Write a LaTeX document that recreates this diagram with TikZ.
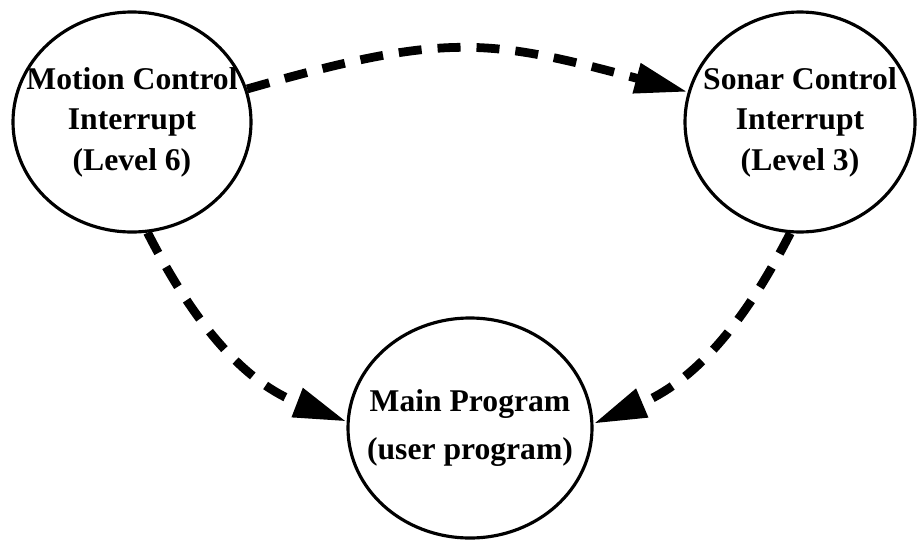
\documentclass[tikz,border=0pt]{standalone}
\usepackage{fontspec}
\setmainfont{Liberation Serif}
\usepackage{tikz}
\usetikzlibrary{positioning}
\usetikzlibrary{shapes}
\usetikzlibrary{arrows.meta}

\begin{document}
\begin{tikzpicture}[
		task/.style={ellipse, draw, line width=1.8pt, minimum width=4.76cm, minimum height=4.4cm, inner xsep=-1cm, inner ysep=0pt, align=center, font=\bfseries\fontsize{18}{23}\selectfont},
		flow/.style={line width=5pt, dash pattern=on 0.46cm off 0.32cm, -{Triangle[length=1.06cm, width=0.58cm]}}
	]
			\useasboundingbox (0,0) rectangle (18.34,-10.82);
			
			\node[task] (motion) at (2.64,-2.44) {Motion Control\\Interrupt\\(Level 6)};
			\node[task, minimum width=4.6cm] (sonar) at (16.0,-2.44) {Sonar Control\\Interrupt\\(Level 3)};
			\node[task, minimum width=4.88cm, font=\bfseries\fontsize{18}{27}\selectfont] (main) at (9.40,-8.56) {Main Program\\(user program)};
			
			\draw[flow] (motion) to[out=16, in=165, looseness=1.2] (sonar);
			\draw[flow] (motion.-82) to[out=-63, in=159] (main.177);
			\draw[flow] (sonar.-95) to[out=-117, in=23] (main.2);
		\end{tikzpicture}
\end{document}
